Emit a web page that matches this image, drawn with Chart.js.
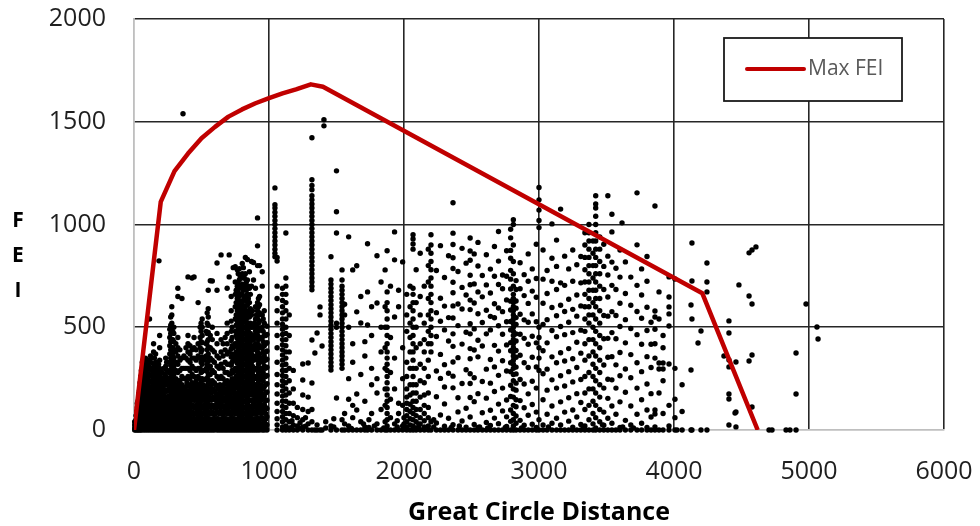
<!DOCTYPE html>
<html>
<head>
<meta charset="utf-8">
<title>FEI vs Great Circle Distance</title>
<script src="https://cdn.jsdelivr.net/npm/chart.js@4.4.1/dist/chart.umd.min.js"></script>
<style>
  html, body { margin: 0; padding: 0; background: #fff; }
  #wrap { width: 980px; height: 526px; position: relative; }
</style>
</head>
<body>
<div id="wrap"><canvas id="feiChart"></canvas></div>
<script>
// envelope of the maximum FEI per distance
const maxFeiDist  = [0, 198, 300, 400, 500, 600, 700, 800, 900, 1000, 1100, 1200, 1310, 1400, 4210, 4620];
const maxFeiValue = [0, 1110, 1260, 1345, 1420, 1475, 1525, 1560, 1590, 1615, 1638, 1658, 1682, 1670, 665, 0];

// observed flights, grouped by great circle distance: [distance, [FEI values]]
const routeGroups = [
  [5, [0, 10, 25, 40]],
  [15, [0, 15, 30, 50, 70]],
  [25, [0, 20, 40, 60, 85, 110, 130]],
  [35, [0, 15, 35, 55, 80, 100, 125, 150, 175]],
  [45, [0, 20, 45, 70, 95, 120, 150, 175, 200, 230]],
  [55, [0, 15, 35, 60, 85, 110, 135, 160, 190, 215, 250, 290]],
  [70, [0, 20, 40, 65, 90, 115, 140, 165, 195, 220, 250, 280, 310, 345]],
  [85, [0, 10, 30, 55, 80, 105, 130, 150, 180, 205, 230, 260, 290, 320, 350]],
  [100, [0, 20, 45, 70, 95, 120, 145, 170, 200, 225, 250, 275, 300, 330]],
  [115, [0, 15, 40, 60, 85, 110, 135, 160, 185, 210, 240, 270, 300, 340, 540]],
  [130, [0, 25, 50, 75, 100, 125, 150, 175, 205, 235, 265, 300, 350]],
  [145, [0, 10, 35, 60, 85, 110, 140, 165, 190, 220, 250, 280, 320, 380, 420]],
  [160, [0, 20, 45, 70, 95, 120, 145, 170, 200, 230, 260, 290, 330, 370]],
  [175, [0, 15, 40, 65, 90, 115, 140, 165, 190, 220, 250, 280]],
  [185, [823]],
  [190, [0, 25, 50, 75, 100, 125, 150, 180, 210, 240, 270, 300, 340, 400, 460]],
  [205, [0, 15, 40, 60, 85, 110, 140, 170, 200, 240, 280]],
  [220, [0, 20, 45, 70, 95, 120, 150, 185, 215, 250, 300]],
  [235, [0, 10, 35, 60, 85, 110, 135, 160, 190, 220, 260, 310, 350]],
  [250, [0, 25, 50, 75, 100, 130, 160, 190, 230]],
  [265, [0, 15, 40, 65, 90, 115, 140, 165, 195, 225, 255, 290, 330, 370, 410, 450, 490]],
  [280, [0, 20, 45, 70, 95, 120, 150, 180, 210, 240, 270, 300, 335, 370, 400, 440, 480, 520, 560, 600]],
  [295, [0, 10, 35, 60, 85, 110, 140, 170, 200, 235, 270, 310, 350, 390, 430, 470, 500]],
  [310, [0, 25, 50, 75, 100, 125, 155, 185, 215, 250, 290, 330, 380, 420]],
  [325, [0, 15, 40, 65, 95, 125, 160, 200, 240, 280, 320, 360, 400, 450, 650, 690]],
  [340, [0, 20, 45, 70, 100, 130, 165, 200, 240, 290, 340, 390]],
  [355, [0, 10, 35, 60, 90, 120, 150, 185, 220, 260, 300, 350, 640]],
  [363, [1539]],
  [370, [0, 25, 50, 80, 110, 140, 175, 210, 250, 300, 360]],
  [385, [0, 15, 40, 65, 95, 130, 170, 210, 250, 300, 350, 400]],
  [400, [0, 20, 45, 75, 105, 140, 180, 220, 260, 300, 340, 380, 420, 460, 745]],
  [415, [0, 10, 35, 65, 100, 135, 170, 210, 250, 290, 330, 370, 410]],
  [430, [0, 25, 50, 80, 115, 150, 190, 230, 270, 310, 350, 390, 740]],
  [445, [0, 15, 45, 75, 110, 145, 180, 220, 260, 300, 350, 400, 450, 745]],
  [460, [0, 20, 50, 85, 120, 160, 200, 240, 290, 340, 390]],
  [475, [0, 10, 40, 70, 105, 140, 180, 220, 260, 300, 360, 420, 620]],
  [490, [0, 25, 55, 90, 125, 165, 205, 250, 300, 350, 400, 450, 500]],
  [505, [0, 15, 45, 75, 110, 145, 180, 215, 250, 285, 320, 355, 390, 425, 460, 500, 540]],
  [520, [0, 20, 50, 85, 120, 160, 200, 245, 290, 340]],
  [535, [0, 10, 40, 70, 100, 135, 170, 210, 250, 300, 360, 420, 480]],
  [550, [0, 25, 55, 90, 125, 160, 195, 230, 265, 300, 335, 370, 405, 440, 475, 510, 550, 590, 680]],
  [565, [0, 15, 45, 80, 115, 150, 190, 230, 270, 310, 350, 400, 460, 726]],
  [580, [0, 20, 50, 85, 120, 155, 195, 240, 290, 340, 390, 440, 500, 725]],
  [595, [0, 10, 40, 75, 110, 150, 190, 230, 280, 330, 380]],
  [615, [0, 25, 55, 90, 130, 170, 215, 260, 310, 360, 420, 470, 680, 813]],
  [630, [0, 15, 45, 80, 120, 160, 200, 250, 300, 350]],
  [645, [0, 20, 50, 90, 130, 170, 210, 260, 320, 380, 440, 852]],
  [660, [0, 10, 40, 75, 115, 155, 200, 250, 300, 360, 420]],
  [675, [0, 25, 55, 95, 140, 185, 230, 280, 330, 390, 450]],
  [690, [0, 15, 45, 80, 120, 160, 200, 240, 280, 320, 370, 420, 470, 520, 690]],
  [705, [0, 20, 50, 90, 130, 175, 220, 270, 320, 380, 745, 852]],
  [720, [0, 10, 40, 75, 115, 155, 195, 235, 275, 315, 355, 395, 435, 480, 530, 580, 650]],
  [735, [0, 25, 55, 95, 135, 180, 230, 280, 340, 400, 790]],
  [750, [0, 15, 45, 80, 120, 160, 205, 250, 300, 360, 420, 480, 540, 600, 660, 720, 795]],
  [765, [0, 20, 50, 85, 125, 165, 205, 245, 285, 325, 365, 405, 445, 485, 530, 580, 640, 700, 780]],
  [780, [0, 10, 40, 70, 100, 130, 160, 190, 220, 250, 280, 310, 340, 370, 400, 430, 460, 490, 520, 550, 580, 610, 650, 690, 730, 785]],
  [795, [0, 25, 55, 85, 115, 145, 175, 205, 235, 265, 295, 325, 355, 385, 415, 445, 475, 505, 535, 565, 595, 625, 660, 700]],
  [810, [0, 15, 45, 75, 105, 135, 165, 195, 225, 255, 285, 315, 345, 375, 405, 435, 465, 495, 525, 555, 590, 630, 680, 740, 790]],
  [825, [0, 20, 50, 80, 110, 140, 170, 200, 230, 260, 290, 320, 350, 380, 410, 440, 470, 500, 530, 560, 600, 650, 700, 760, 840]],
  [840, [0, 10, 40, 70, 100, 130, 160, 190, 220, 250, 280, 310, 340, 370, 400, 430, 460, 490, 520, 560, 610, 660, 730, 830]],
  [855, [0, 25, 55, 85, 115, 145, 175, 205, 235, 265, 295, 325, 355, 385, 420, 460, 500, 550, 620, 690, 770]],
  [870, [0, 15, 45, 75, 110, 145, 180, 215, 250, 290, 330, 370, 410, 450, 500, 560, 700, 820]],
  [885, [0, 20, 50, 90, 130, 170, 210, 250, 290, 340, 390, 440, 500, 730, 815]],
  [900, [0, 10, 40, 80, 120, 160, 200, 250, 300, 360, 420, 480, 540, 600, 690]],
  [915, [0, 25, 60, 100, 140, 180, 220, 260, 300, 340, 380, 420, 460, 500, 540, 580, 620, 800, 896, 1032]],
  [930, [0, 15, 50, 90, 130, 170, 210, 250, 290, 330, 370, 410, 450, 490, 530, 570, 610, 650, 800]],
  [950, [0, 20, 60, 100, 150, 200, 250, 300, 350, 400, 450, 500, 560, 700, 770]],
  [965, [0, 10, 45, 85, 125, 165, 210, 260, 310, 360, 410, 460, 520, 580]],
  [985, [0, 25, 65, 105, 145, 185, 225, 265, 305, 345, 385, 425, 465, 505]],
  [1044, [843, 860, 880, 900, 920, 940, 960, 980, 1000, 1020, 1040, 1060, 1080, 1096, 1178]],
  [1060, [0, 25, 55, 90, 130, 175, 220, 270, 330, 400, 460, 520, 580, 640, 700, 822, 840]],
  [1100, [0, 15, 40, 65, 90, 115, 140, 165, 190, 215, 240, 265, 290, 315, 340, 365, 390, 415, 440, 465, 490, 515, 540, 570, 600, 630, 660, 690]],
  [1125, [0, 20, 50, 80, 110, 140, 170, 200, 230, 260, 290, 320, 350, 380, 410, 440, 470, 500, 540, 580, 620, 660, 700, 740, 959]],
  [1150, [0, 10, 40, 80, 130, 180, 240, 300, 380, 460, 560]],
  [1170, [12, 45]],
  [1180, [0, 25, 70, 130, 200, 290]],
  [1210, [0, 20, 60, 110]],
  [1230, [8, 35]],
  [1250, [0, 15, 50, 100, 170, 243, 321]],
  [1270, [18, 60]],
  [1290, [0, 30, 90, 160, 326]],
  [1318, [0, 40, 100, 229, 438, 682, 700, 720, 740, 760, 780, 800, 820, 840, 860, 880, 900, 920, 940, 960, 980, 1000, 1020, 1040, 1060, 1080, 1100, 1120, 1140, 1169, 1190, 1218, 1422]],
  [1340, [0, 375]],
  [1356, [0, 25, 472]],
  [1378, [0, 560, 599]],
  [1393, [0, 409]],
  [1407, [1480, 1510]],
  [1420, [10, 40]],
  [1459, [0, 20, 292, 310, 330, 350, 370, 390, 410, 430, 450, 470, 490, 510, 530, 550, 570, 590, 610, 630, 650, 670, 690, 710, 730, 843]],
  [1480, [15, 55]],
  [1500, [0, 156, 500, 520, 959, 1062, 1261]],
  [1541, [0, 50, 300, 320, 340, 360, 380, 400, 420, 440, 460, 480, 500, 520, 540, 560, 580, 600, 620, 640, 660, 680, 700, 730, 779]],
  [1560, [0, 30, 80, 560, 612]],
  [1590, [0, 20, 150, 250, 500, 940]],
  [1610, [8]],
  [1620, [0, 60, 120, 330, 420, 779]],
  [1650, [0, 97, 175, 575, 799]],
  [1680, [0, 40, 270, 521, 650]],
  [1700, [30]],
  [1710, [0, 15, 140, 360, 430]],
  [1730, [0, 511, 672, 906]],
  [1740, [12, 50]],
  [1760, [0, 80, 220, 300, 460, 600]],
  [1780, [20]],
  [1800, [0, 30, 180, 250, 618, 848]],
  [1830, [0, 100, 380, 500, 720]],
  [1850, [10]],
  [1860, [0, 40, 120, 200, 300, 400, 500, 600, 779]],
  [1875, [0, 20, 50, 80, 110, 140, 170, 200, 230, 260, 290, 320, 350, 380, 420, 460, 500, 540, 580, 620, 672, 872]],
  [1900, [0, 60, 150, 280, 450, 700]],
  [1930, [0, 30, 200, 350, 550, 828, 964]],
  [1950, [15, 45]],
  [1960, [0, 80, 130, 600, 680]],
  [1990, [0, 20, 120, 250, 400, 818]],
  [2000, [10, 30, 60]],
  [2020, [0, 15, 40, 70, 100, 130, 160, 200, 260, 330, 480, 560, 660]],
  [2045, [0, 25, 55, 90, 125, 170, 220, 300, 380, 450, 520, 600, 700]],
  [2067, [0, 20, 50, 80, 110, 140, 180, 220, 260, 300, 340, 380, 420, 460, 500, 540, 580, 620, 660, 690, 880, 905, 930, 950]],
  [2090, [0, 10, 40, 70, 100, 140, 180, 220, 300, 400, 500, 620, 780]],
  [2110, [12, 28]],
  [2120, [0, 30, 60, 100, 160, 240, 320, 420, 560, 650, 860]],
  [2150, [0, 15, 45, 80, 120, 170, 230, 300, 380, 440, 520, 700]],
  [2180, [0, 20, 60, 110, 180, 260, 340, 420, 480, 560, 640, 720, 800, 880]],
  [2200, [0, 40, 380, 420, 460, 500, 540, 580, 620, 660, 700, 740, 780, 820, 860, 900, 950]],
  [2220, [15, 50]],
  [2240, [0, 34, 162, 287, 455, 571, 776]],
  [2270, [0, 73, 251, 368, 529, 641, 897]],
  [2300, [0, 18, 127, 209, 318, 487, 603, 742]],
  [2330, [0, 57, 276, 433, 547, 848]],
  [2350, [12]],
  [2363, [0, 26, 205, 262, 331, 407, 468, 545, 604, 668, 719, 786, 838, 903, 958, 1106]],
  [2400, [0, 88, 157, 352, 508, 613, 771]],
  [2410, [20]],
  [2430, [0, 44, 226, 418, 589, 694, 884]],
  [2460, [0, 14, 106, 293, 476, 657, 812]],
  [2490, [0, 63, 158, 226, 274, 347, 396, 468, 517, 586, 632, 707, 753, 826, 871, 934]],
  [2520, [0, 27, 138, 254, 389, 492, 618, 711, 857]],
  [2548, [0, 12, 177, 356, 437, 566, 672, 798, 913]],
  [2560, [15]],
  [2580, [0, 84, 236, 409, 523, 648, 752]],
  [2610, [0, 37, 155, 296, 468, 583, 706, 853]],
  [2620, [10]],
  [2640, [0, 22, 96, 228, 343, 487, 553, 667, 783]],
  [2670, [0, 58, 187, 307, 412, 546, 614, 748, 893]],
  [2700, [0, 31, 126, 266, 384, 507, 594, 708, 822, 966]],
  [2730, [0, 93, 204, 337, 466, 576, 687, 754]],
  [2750, [12]],
  [2760, [0, 17, 64, 146, 287, 414, 527, 633, 748, 872]],
  [2790, [0, 42, 97, 163, 218, 284, 327, 386, 425, 487, 528, 584, 627, 686, 734, 777, 836, 874, 935, 977]],
  [2810, [0, 20, 50, 80, 120, 160, 200, 240, 270, 300, 320, 340, 360, 380, 400, 420, 440, 460, 480, 500, 520, 540, 560, 580, 600, 620, 640, 660, 700, 760, 820, 900, 1000, 1023]],
  [2830, [0, 33, 68, 113, 147, 194, 228, 273, 306, 354, 387, 433, 468, 514, 547, 593, 628, 684, 727]],
  [2860, [0, 47, 143, 246, 364, 466, 563, 687, 814]],
  [2870, [10]],
  [2890, [0, 23, 108, 224, 327, 446, 536, 654, 756]],
  [2920, [0, 72, 176, 304, 417, 524, 616, 724, 857]],
  [2950, [0, 28, 124, 237, 354, 456, 565, 676, 784]],
  [2980, [0, 12, 87, 204, 307, 424, 527, 646, 737, 904]],
  [3000, [0, 50, 290, 350, 400, 450, 500, 985, 1020, 1070, 1120, 1180]],
  [3030, [0, 24, 147, 274, 386, 514, 617, 734, 876]],
  [3060, [0, 77, 194, 296, 424, 537, 664, 776]],
  [3070, [15]],
  [3096, [0, 33, 117, 244, 356, 484, 596, 724, 836, 1003]],
  [3130, [0, 57, 204, 327, 454, 556, 684, 796, 924]],
  [3160, [0, 24, 137, 264, 376, 504, 607, 716, 1075]],
  [3190, [0, 87, 214, 336, 464, 577, 704, 846]],
  [3220, [0, 43, 157, 284, 396, 524, 636, 784]],
  [3250, [0, 14, 97, 234, 347, 474, 587, 724, 876]],
  [3280, [0, 63, 177, 304, 427, 554, 657, 804]],
  [3310, [0, 27, 134, 246, 374, 486, 604, 716, 844]],
  [3330, [12]],
  [3340, [0, 20, 100, 180, 260, 340, 420, 480, 540, 600, 660, 720, 780, 840, 900, 960]],
  [3370, [0, 50, 120, 200, 280, 360, 440, 520, 560, 600, 640, 680, 720, 760, 800, 840, 880, 920, 960, 1000]],
  [3400, [0, 30, 80, 140, 200, 260, 320, 380, 440, 500, 560, 620, 680, 740, 800, 860, 920]],
  [3420, [0, 10, 60, 120, 180, 240, 300, 360, 420, 480, 540, 600, 640, 680, 720, 760, 800, 840, 880, 920, 960, 1000, 1040, 1080, 1100, 1140]],
  [3450, [0, 40, 100, 160, 220, 280, 340, 400, 460, 520, 580, 640, 700, 760, 820, 880, 940]],
  [3470, [25]],
  [3480, [0, 23, 87, 204, 316, 444, 557, 684, 796, 904]],
  [3510, [0, 57, 154, 247, 354, 446, 554, 647, 754, 846, 1140]],
  [3540, [0, 33, 117, 244, 357, 474, 576, 704, 817, 964, 1050]],
  [3570, [0, 77, 204, 317, 444, 557, 684, 787]],
  [3600, [0, 13, 137, 264, 377, 504, 617, 744, 876]],
  [3615, [1008]],
  [3620, [15]],
  [3640, [0, 47, 184, 297, 424, 537, 664, 818]],
  [3680, [0, 24, 117, 254, 367, 494, 607, 744]],
  [3700, [10]],
  [3726, [0, 77, 204, 327, 464, 577, 704, 901, 1154]],
  [3760, [0, 33, 147, 284, 417, 544, 657, 784]],
  [3800, [0, 13, 97, 224, 357, 484, 597, 724, 844]],
  [3830, [0, 63, 177, 304, 417, 524]],
  [3859, [0, 15, 78, 97, 350, 420, 490, 550, 579, 1090]],
  [3889, [0, 180, 297, 326, 540, 672]],
  [3919, [0, 80, 240, 297, 326, 400, 460]],
  [3963, [0, 20, 120, 321, 506, 565, 599, 647, 745]],
  [4007, [0, 60, 150, 300, 735]],
  [4022, [0]],
  [4060, [0, 90, 220]],
  [4126, [0, 292, 608]],
  [4133, [0, 540, 725, 910]],
  [4178, [423]],
  [4200, [0, 482]],
  [4244, [0, 672, 720, 813]],
  [4370, [360]],
  [4407, [24, 151, 175, 307, 341, 472, 531]],
  [4452, [83]],
  [4459, [15, 88, 331]],
  [4481, [706]],
  [4556, [336, 652, 862]],
  [4578, [112, 365, 613, 876]],
  [4607, [891]],
  [4704, [0]],
  [4726, [0]],
  [4830, [0]],
  [4859, [0]],
  [4904, [0, 175, 375]],
  [4978, [613]],
  [5059, [501]],
  [5067, [443]]
];

// short-haul routes under 1000 km, where the flights crowd together
const shortHaulGroups = [
  [10, [5, 20, 35]],
  [20, [8, 25, 45, 65, 90]],
  [30, [8, 28, 48, 70, 92, 115, 140]],
  [40, [8, 28, 50, 72, 95, 118, 140, 165, 190]],
  [50, [8, 28, 50, 72, 98, 122, 148, 172, 200, 225, 260]],
  [62, [8, 28, 50, 75, 100, 125, 150, 178, 205, 232, 265, 300, 330]],
  [77, [8, 30, 52, 78, 102, 128, 152, 180, 208, 238, 268, 300, 335]],
  [92, [8, 28, 50, 72, 98, 122, 148, 172, 198, 222, 248, 275, 305, 340]],
  [107, [8, 30, 55, 80, 105, 128, 155, 180, 210, 240, 270, 310]],
  [122, [8, 28, 52, 78, 102, 128, 152, 178, 205, 232, 262, 295, 330, 360]],
  [137, [8, 30, 55, 80, 105, 132, 158, 185, 212, 240, 270, 300]],
  [152, [8, 28, 52, 78, 102, 128, 155, 182, 210, 240, 275, 310, 350]],
  [167, [8, 30, 55, 80, 108, 135, 160, 188, 215, 245, 275, 310]],
  [182, [8, 28, 52, 78, 102, 128, 155, 182, 210, 235, 265, 300, 320]],
  [197, [8, 30, 55, 80, 105, 132, 160, 190, 220, 255, 290]],
  [212, [8, 28, 52, 78, 102, 128, 155, 185, 215, 250]],
  [227, [8, 30, 55, 80, 108, 135, 165, 195, 230, 270]],
  [242, [8, 28, 52, 78, 102, 128, 158, 188, 220, 250, 290, 330]],
  [257, [8, 30, 55, 80, 108, 135, 165, 200, 240, 280]],
  [272, [8, 28, 52, 78, 102, 128, 155, 185, 215, 245, 280, 315, 350, 390, 430, 470, 510, 550]],
  [287, [8, 30, 55, 80, 108, 135, 165, 195, 225, 255, 290, 320, 360, 400, 440, 480]],
  [302, [8, 28, 52, 78, 102, 130, 160, 190, 220]],
  [317, [8, 30, 55, 80, 108, 140, 175, 210]],
  [332, [8, 28, 52, 80, 110, 145, 180, 220]],
  [347, [8, 30, 55, 80, 108, 140, 175, 210]],
  [362, [8, 28, 52, 78, 105, 135, 165, 200]],
  [377, [8, 30, 55, 85, 118, 155, 190]],
  [392, [8, 28, 52, 80, 110, 150, 190, 230]],
  [407, [8, 30, 55, 85, 120, 155, 190]],
  [422, [8, 28, 52, 80, 110, 145, 180, 220]],
  [437, [8, 30, 55, 85, 120, 160, 200]],
  [452, [8, 28, 52, 80, 110, 145, 180, 220]],
  [467, [8, 30, 55, 85, 120, 160, 200]],
  [482, [8, 28, 52, 80, 110, 145, 180, 220]],
  [497, [8, 30, 55, 85, 120, 160, 200, 240, 280, 330, 380, 430, 480, 520]],
  [512, [8, 28, 52, 80, 110, 145, 180, 220]],
  [527, [8, 30, 55, 85, 120, 160, 200]],
  [542, [8, 28, 52, 80, 110, 145, 180, 215, 250, 285, 320, 355, 390, 430, 470, 520, 570]],
  [557, [8, 30, 55, 85, 120, 160, 200, 240]],
  [572, [8, 28, 52, 80, 110, 145, 180, 220]],
  [587, [8, 30, 55, 85, 120, 160, 200]],
  [605, [8, 28, 52, 80, 110, 145, 180, 220]],
  [622, [8, 30, 55, 85, 120, 160, 200]],
  [637, [8, 28, 52, 80, 110, 145, 180, 220]],
  [652, [8, 30, 55, 85, 120, 160, 200]],
  [667, [8, 28, 52, 80, 110, 145, 180, 220]],
  [682, [8, 30, 55, 85, 120, 160, 200]],
  [697, [8, 28, 52, 80, 110, 145, 180, 220]],
  [712, [8, 30, 55, 85, 120, 160, 200]],
  [727, [8, 28, 52, 80, 110, 145, 180, 215, 250, 290, 330, 370, 410, 450, 500]],
  [742, [8, 30, 55, 85, 120, 160, 200, 240]],
  [757, [8, 28, 52, 80, 110, 145, 180, 220, 260, 300, 340, 380, 420, 460, 510, 560, 620, 680]],
  [772, [8, 30, 55, 85, 115, 145, 175, 205, 235, 265, 295, 325, 355, 385, 415, 445, 475, 505, 535, 565, 595, 630, 670, 710, 760]],
  [787, [8, 28, 52, 80, 110, 140, 170, 200, 230, 260, 290, 320, 350, 380, 410, 440, 470, 500, 530, 560, 590, 620, 660, 700, 745]],
  [802, [8, 30, 55, 85, 115, 145, 175, 205, 235, 265, 295, 325, 355, 385, 415, 445, 475, 505, 540, 575, 615, 660, 710, 760, 810]],
  [817, [8, 28, 52, 80, 110, 140, 170, 200, 230, 260, 290, 320, 350, 380, 410, 440, 470, 500, 530, 560, 600, 640, 690, 740]],
  [832, [8, 30, 55, 85, 115, 145, 175, 205, 235, 265, 295, 325, 355, 385, 415, 445, 475, 505, 540, 580, 630, 680, 720]],
  [847, [8, 28, 52, 80, 110, 140, 170, 200, 230, 260, 290, 320, 350, 380, 410, 440, 480, 520, 570, 640, 700]],
  [862, [8, 30, 55, 85, 115, 145, 175, 205, 240, 275, 310, 350, 390, 430, 470, 520, 590, 660]],
  [877, [8, 28, 52, 80, 110, 140, 170, 200, 235, 270, 310, 350, 400, 450, 510, 580]],
  [892, [8, 30, 55, 85, 115, 150, 185, 220, 260, 300, 350, 400, 460, 520]],
  [907, [8, 28, 52, 80, 110, 145, 180, 220, 260, 300, 350, 400, 450, 500, 560]],
  [922, [8, 30, 55, 85, 120, 160, 200, 240, 280, 320, 360, 400, 440, 480, 520, 560, 600, 640]],
  [940, [8, 28, 52, 80, 110, 145, 180, 220, 260, 300, 350, 400, 450]],
  [957, [8, 30, 55, 85, 120, 160, 200, 240, 280, 330, 380, 430, 480, 540]],
  [975, [8, 28, 52, 80, 110, 145, 180, 220, 260, 300, 340, 380, 420, 460]]
];

const distTicks = [0, 1000, 2000, 3000, 4000, 5000, 6000];
const feiTicks = [0, 500, 1000, 1500, 2000];

const flightPoints = [];
routeGroups.concat(shortHaulGroups).forEach(([dist, feis]) => {
  feis.forEach(fei => flightPoints.push({ x: dist, y: fei }));
});
const maxFeiPoints = maxFeiDist.map((d, i) => ({ x: d, y: maxFeiValue[i] }));

const tickFont = { family: "'Open Sans', sans-serif", size: 25 };
const gridDark = '#262626';
const axisGray = '#bfbfbf';

// boxed legend inside the plot, plus the stacked "F E I" axis label
const extrasPlugin = {
  id: 'extras',
  afterDraw(chart) {
    const ctx = chart.ctx;
    ctx.save();

    ctx.fillStyle = '#000';
    ctx.font = "bold 21px 'Open Sans', sans-serif";
    ctx.textAlign = 'center';
    ctx.textBaseline = 'middle';
    ['F', 'E', 'I'].forEach((ch, i) => ctx.fillText(ch, 18, 221 + i * 35));

    const box = { x: 724, y: 38, w: 178, h: 63 };
    ctx.fillStyle = '#fff';
    ctx.fillRect(box.x, box.y, box.w, box.h);
    ctx.strokeStyle = '#1a1a1a';
    ctx.lineWidth = 1.8;
    ctx.strokeRect(box.x, box.y, box.w, box.h);

    const ds = chart.data.datasets[0];
    const midY = box.y + 31;
    ctx.strokeStyle = ds.borderColor;
    ctx.lineWidth = 4;
    ctx.lineCap = 'round';
    ctx.beginPath();
    ctx.moveTo(box.x + 23, midY);
    ctx.lineTo(box.x + 80, midY);
    ctx.stroke();

    ctx.fillStyle = '#595959';
    ctx.font = "21px 'Open Sans', sans-serif";
    ctx.textAlign = 'left';
    ctx.fillText(ds.label, box.x + 84, midY);
    ctx.restore();
  }
};

new Chart(document.getElementById('feiChart'), {
  type: 'scatter',
  data: {
    datasets: [
      {
        type: 'line',
        label: 'Max FEI',
        data: maxFeiPoints,
        borderColor: '#c00000',
        borderWidth: 4.5,
        borderJoinStyle: 'round',
        pointRadius: 0,
        fill: false,
        tension: 0
      },
      {
        label: 'Flights',
        data: flightPoints,
        backgroundColor: '#000',
        borderWidth: 0,
        pointRadius: 2.7,
        clip: 4
      }
    ]
  },
  options: {
    responsive: true,
    maintainAspectRatio: false,
    animation: false,
    layout: { padding: { top: 19, right: 36, left: 0, bottom: 0 } },
    plugins: {
      legend: { display: false },
      tooltip: { enabled: false }
    },
    scales: {
      x: {
        type: 'linear',
        min: 0,
        max: 6000,
        afterBuildTicks: scale => { scale.ticks = distTicks.map(v => ({ value: v })); },
        afterFit: scale => {
          scale.height = 96;
          scale.paddingLeft = 0;
          scale.paddingRight = 0;
        },
        ticks: { font: tickFont, color: '#1f1f1f', padding: 27, maxRotation: 0, callback: v => String(v) },
        grid: {
          drawTicks: false,
          lineWidth: 1.6,
          color: ctx => (ctx.tick && ctx.tick.value === 0 ? axisGray : gridDark)
        },
        border: { color: axisGray, width: 1.6 },
        title: {
          display: true,
          text: 'Great Circle Distance',
          color: '#000',
          font: { family: "'Open Sans', sans-serif", size: 25, weight: 'bold' },
          padding: { top: 0, bottom: -2 }
        }
      },
      y: {
        type: 'linear',
        min: 0,
        max: 2000,
        afterBuildTicks: scale => { scale.ticks = feiTicks.map(v => ({ value: v })); },
        afterFit: scale => {
          scale.width = 134;
          scale.paddingTop = 0;
          scale.paddingBottom = 0;
        },
        ticks: { font: tickFont, color: '#1f1f1f', padding: 28, callback: v => String(v) },
        grid: {
          drawTicks: false,
          lineWidth: 1.6,
          color: ctx => (ctx.tick && ctx.tick.value === 0 ? axisGray : gridDark)
        },
        border: { color: axisGray, width: 1.6 }
      }
    }
  },
  plugins: [extrasPlugin]
});
</script>
</body>
</html>
